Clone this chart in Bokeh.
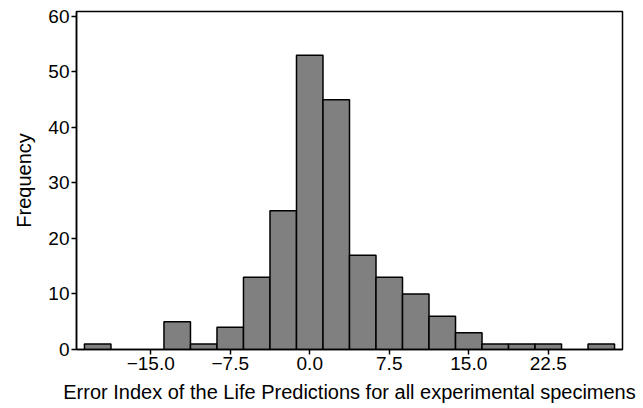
from bokeh.plotting import figure
from bokeh.models import FixedTicker, ColumnDataSource
from bokeh.embed import file_html
from bokeh.resources import INLINE

bin_centers = [-20.0, -17.5, -15.0, -12.5, -10.0, -7.5, -5.0, -2.5, 0.0, 2.5, 5.0, 7.5,
               10.0, 12.5, 15.0, 17.5, 20.0, 22.5, 25.0, 27.5]
counts = [1, 0, 0, 5, 1, 4, 13, 25, 53, 45, 17, 13, 10, 6, 3, 1, 1, 1, 0, 1]
x_ticks = [-15.0, -7.5, 0.0, 7.5, 15.0, 22.5]
x_tick_labels = ["\u221215.0", "\u22127.5", "0.0", "7.5", "15.0", "22.5"]
y_ticks = [0, 10, 20, 30, 40, 50, 60]

src = ColumnDataSource(dict(
    x=[c for c, n in zip(bin_centers, counts) if n > 0],
    top=[n for n in counts if n > 0],
))

p = figure(width=643, height=408, output_backend="svg", toolbar_location=None,
           x_range=(-22, 29.5), y_range=(0, 60.9))
p.min_border_left = 76
p.min_border_right = 21
p.min_border_top = 11
p.min_border_bottom = 59

p.vbar(x="x", top="top", bottom=0, width=2.5, source=src,
       fill_color="#808080", line_color="black", line_width=1.5)

p.xgrid.visible = False
p.ygrid.visible = False
p.background_fill_color = "white"
p.border_fill_color = "white"
p.outline_line_color = "black"
p.outline_line_width = 1.5

font = "Liberation Sans"
for ax in (p.xaxis[0], p.yaxis[0]):
    ax.axis_line_color = "black"
    ax.axis_line_width = 1.5
    ax.major_tick_line_color = "black"
    ax.major_tick_line_width = 1.5
    ax.major_tick_in = 0
    ax.major_tick_out = 5
    ax.minor_tick_line_color = None
    ax.major_label_text_font = font
    ax.major_label_text_font_size = "19px"
    ax.major_label_text_color = "black"
    ax.axis_label_text_font = font
    ax.axis_label_text_font_size = "20px"
    ax.axis_label_text_font_style = "normal"
    ax.axis_label_text_color = "black"
    ax.major_label_standoff = 2

p.xaxis[0].ticker = FixedTicker(ticks=x_ticks)
p.xaxis[0].major_label_overrides = {t: l for t, l in zip(x_ticks, x_tick_labels)}
p.yaxis[0].ticker = FixedTicker(ticks=y_ticks)
p.xaxis[0].axis_label = "Error Index of the Life Predictions for all experimental specimens"
p.yaxis[0].axis_label = "Frequency"
p.xaxis[0].axis_label_standoff = 8
p.yaxis[0].axis_label_standoff = 10

open("out.html", "w").write(file_html(p, INLINE))
